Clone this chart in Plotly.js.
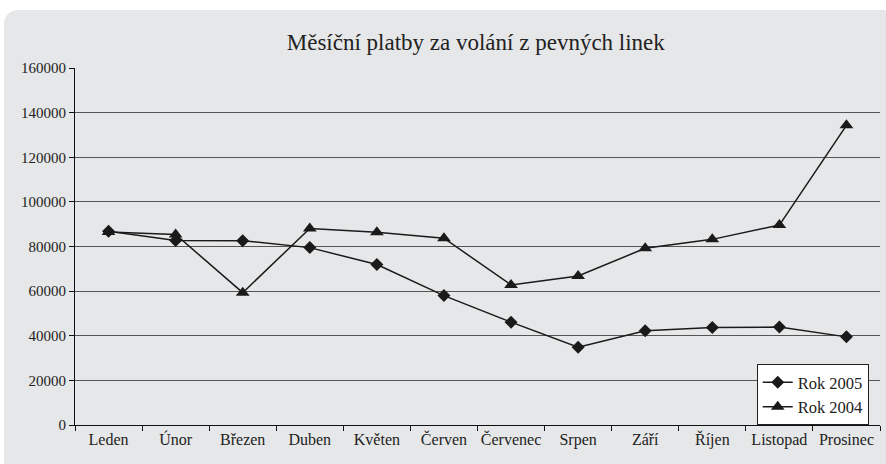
<!DOCTYPE html>
<html>
<head>
<meta charset="utf-8">
<script src="https://cdn.plot.ly/plotly-3.0.1.min.js"></script>
<style>
  html, body { margin:0; padding:0; background:#ffffff; width:886px; height:464px; overflow:hidden; }
  #panel { position:absolute; left:4px; top:10px; width:882px; height:454px; background:#e6e7e8; border-top-left-radius:14px; }
  #chart { position:absolute; left:0; top:0; width:886px; height:464px; }
</style>
</head>
<body>
<div id="panel"></div>
<div id="chart"></div>
<script>
const months = ["Leden","Únor","Březen","Duben","Květen","Červen","Červenec","Srpen","Září","Říjen","Listopad","Prosinec"];
const rok2005 = [86800, 82700, 82600, 79500, 71900, 58000, 46100, 34900, 42200, 43700, 43900, 39500];
const rok2004 = [86500, 85400, 59300, 88100, 86400, 83700, 62800, 66800, 79200, 83200, 89600, 134300];
const yTicks = [0, 20000, 40000, 60000, 80000, 100000, 120000, 140000, 160000];

const font = "'Liberation Serif', 'DejaVu Serif', serif";
const traces = [
  {
    x: months, y: rok2005, name: "Rok 2005", type: "scatter", mode: "lines+markers",
    line: {color: "#1a1a1a", width: 1.5},
    marker: {symbol: "diamond", size: 10, color: "#1a1a1a"}
  },
  {
    x: months, y: rok2004, name: "Rok 2004", type: "scatter", mode: "lines+markers",
    line: {color: "#1a1a1a", width: 1.5},
    marker: {symbol: "triangle-up", size: 12, color: "#1a1a1a"}
  }
];

const layout = {
  width: 886, height: 464,
  paper_bgcolor: "rgba(0,0,0,0)",
  plot_bgcolor: "rgba(0,0,0,0)",
  margin: {l: 75, r: 6, t: 68, b: 38.5},
  font: {family: font, size: 15, color: "#222"},
  title: {text: "Měsíční platby za volání z pevných linek", font: {family: font, size: 23, color: "#222"}, x: 0.537, xanchor: "center", y: 0.91, yanchor: "middle"},
  showlegend: true,
  legend: {
    x: 0.986, xanchor: "right", y: 0, yanchor: "bottom",
    bgcolor: "#ffffff", bordercolor: "#222", borderwidth: 1,
    font: {family: font, size: 16.5, color: "#222"},
    traceorder: "normal", tracegroupgap: 2
  },
  xaxis: {
    type: "category", categoryorder: "array", categoryarray: months,
    range: [-0.5, 11.5], autorange: false,
    showline: true, linecolor: "#111", linewidth: 1,
    ticks: "outside", tickson: "boundaries", ticklen: 5, tickcolor: "#111",
    showgrid: false, zeroline: false, tickangle: 0,
    tickfont: {family: font, size: 16, color: "#222"},
    fixedrange: true
  },
  yaxis: {
    range: [0, 160000], tickvals: yTicks, ticktext: yTicks.map(String),
    showline: true, linecolor: "#111", linewidth: 1,
    ticks: "outside", ticklen: 5, tickcolor: "#111",
    showgrid: true, gridcolor: "#555", gridwidth: 1,
    zeroline: false,
    tickfont: {family: font, size: 15, color: "#222"},
    fixedrange: true
  }
};

Plotly.newPlot("chart", traces, layout, {staticPlot: true, displayModeBar: false});
</script>
</body>
</html>
